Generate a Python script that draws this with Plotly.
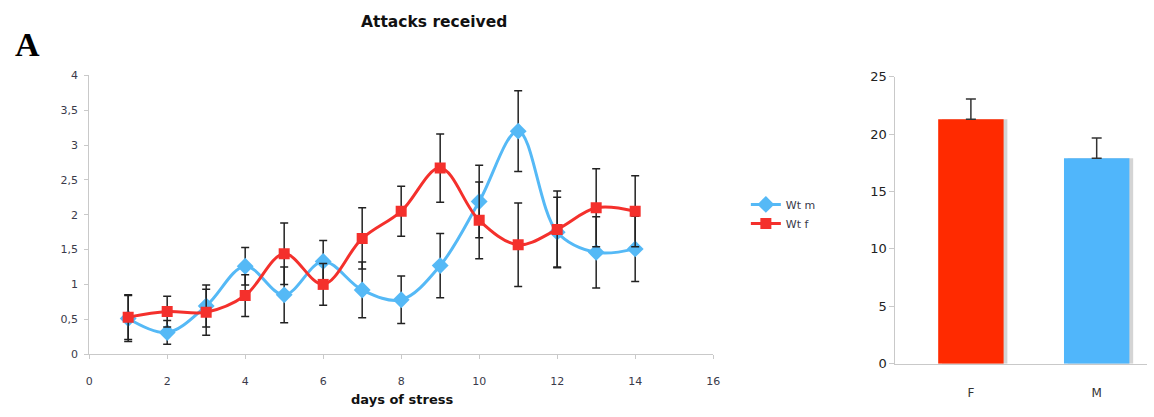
import plotly.graph_objects as go

# Daily attacks received over the stress period
days = list(range(1, 15))
wt_m = [0.51, 0.31, 0.69, 1.26, 0.85, 1.33, 0.92, 0.78, 1.27, 2.19, 3.20, 1.75, 1.46, 1.51]
wt_m_err = [0.33, 0.17, 0.30, 0.27, 0.40, 0.30, 0.40, 0.34, 0.46, 0.52, 0.58, 0.50, 0.51, 0.47]
wt_f = [0.53, 0.61, 0.60, 0.84, 1.44, 1.00, 1.66, 2.05, 2.67, 1.92, 1.57, 1.79, 2.10, 2.05]
wt_f_err = [0.32, 0.22, 0.33, 0.30, 0.44, 0.30, 0.44, 0.36, 0.49, 0.55, 0.60, 0.55, 0.56, 0.51]

# Total attacks by sex
sexes = ["F", "M"]
totals = [21.3, 17.9]
totals_err = [1.75, 1.75]

BLUE = "#55b9f6"
RED = "#f4302c"
AXIS_GRAY = "#c9c9c9"
TICK_FONT = dict(family="DejaVu Sans", size=11, color="#3a3a4a")
BAR_W = 0.52
cat_pos = list(range(len(sexes)))

fig = go.Figure()

fig.add_trace(go.Scatter(
    x=days, y=wt_m, name="Wt m", mode="lines+markers",
    line=dict(color=BLUE, width=3, shape="spline", smoothing=1),
    marker=dict(symbol="diamond", size=13, color=BLUE),
    error_y=dict(type="data", array=wt_m_err, color="#222", thickness=1.5, width=4),
    xaxis="x", yaxis="y",
))
fig.add_trace(go.Scatter(
    x=days, y=wt_f, name="Wt f", mode="lines+markers",
    line=dict(color=RED, width=3, shape="spline", smoothing=1),
    marker=dict(symbol="square", size=11, color=RED),
    error_y=dict(type="data", array=wt_f_err, color="#222", thickness=1.5, width=4),
    xaxis="x", yaxis="y",
))

# soft drop shadow behind the bars
fig.add_trace(go.Bar(
    x=cat_pos, y=totals, width=BAR_W, offset=-BAR_W / 2 + 0.03,
    marker=dict(color="#d4d4d4", line=dict(width=0)),
    showlegend=False, hoverinfo="skip", xaxis="x2", yaxis="y2",
))
fig.add_trace(go.Bar(
    x=cat_pos, y=totals, width=BAR_W, offset=-BAR_W / 2,
    marker=dict(color=["#ff2a00", "#50b6fb"], line=dict(width=0)),
    error_y=dict(type="data", symmetric=False, array=totals_err, arrayminus=[0, 0],
                 color="#333", thickness=1.5, width=5),
    showlegend=False, xaxis="x2", yaxis="y2",
))

fig.update_layout(
    width=1154, height=417,
    margin=dict(l=0, r=0, t=0, b=0),
    paper_bgcolor="white", plot_bgcolor="white",
    separators=", ",
    barmode="overlay",
    showlegend=True,
    legend=dict(x=749 / 1154, y=0.545, xanchor="left", yanchor="top",
                font=dict(family="DejaVu Sans", size=11, color="#3a3a4a"),
                bgcolor="rgba(0,0,0,0)", tracegroupgap=2, itemwidth=30),
    xaxis=dict(domain=[86 / 1154, 716 / 1154], range=[0, 16], dtick=2,
               showgrid=False, zeroline=False, showline=True, linecolor=AXIS_GRAY,
               linewidth=1, ticks="outside", ticklen=4, tickcolor=AXIS_GRAY,
               ticklabelstandoff=13, tickfont=TICK_FONT, anchor="y"),
    yaxis=dict(domain=[57 / 417, 346 / 417], range=[0, 4], dtick=0.5,
               showgrid=False, zeroline=False, showline=True, linecolor=AXIS_GRAY,
               linewidth=1, ticks="outside", ticklen=4, tickcolor=AXIS_GRAY,
               ticklabelstandoff=4, tickfont=TICK_FONT, anchor="x"),
    xaxis2=dict(domain=[900 / 1154, 1.0], range=[-0.6, 1.4],
                tickvals=cat_pos, ticktext=sexes,
                showgrid=False, zeroline=False, showline=True, linecolor=AXIS_GRAY,
                linewidth=1, ticks="", ticklabelstandoff=18,
                tickfont=dict(family="DejaVu Sans", size=12, color="#333"), anchor="y2"),
    yaxis2=dict(domain=[47 / 417, 344.7 / 417], range=[0, 25], dtick=5,
                showgrid=False, zeroline=False, showline=True, linecolor=AXIS_GRAY,
                linewidth=1, ticks="outside", ticklen=5, tickcolor=AXIS_GRAY,
                tickfont=dict(family="DejaVu Sans", size=13, color="#222"), anchor="x2"),
    annotations=[
        dict(text="<b>Attacks received</b>", x=434 / 1154, y=1 - 16 / 417,
             xref="paper", yref="paper", showarrow=False, xanchor="center", yanchor="middle",
             font=dict(family="DejaVu Sans", size=15.5, color="#111")),
        dict(text="<b>A</b>", x=9 / 1154, y=1 - 39 / 417,
             xref="paper", yref="paper", showarrow=False, xanchor="left", yanchor="middle",
             font=dict(family="Liberation Serif", size=34, color="black")),
        dict(text="<b>days of stress</b>", x=402 / 1154, y=1 - 407 / 417,
             xref="paper", yref="paper", showarrow=False, xanchor="center", yanchor="middle",
             font=dict(family="DejaVu Sans", size=13, color="#111")),
    ],
)

fig.write_html("out.html")
